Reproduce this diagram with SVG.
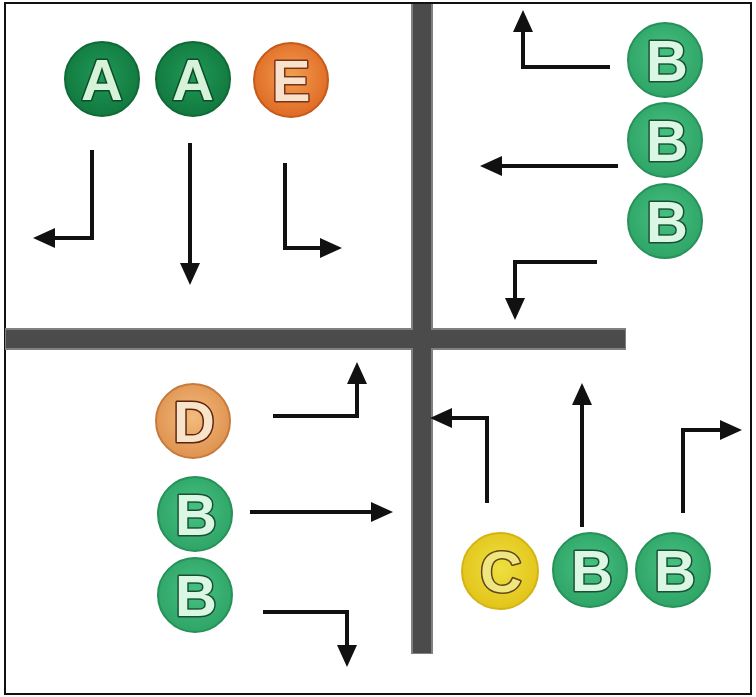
<svg xmlns="http://www.w3.org/2000/svg" width="756" height="697" viewBox="0 0 756 697">
  <style>
    .frame { fill: #ffffff; stroke: #111111; stroke-width: 2; }
    .road-edge { fill: #808080; }
    .road { fill: #4b4b4b; }
    .flow { fill: none; stroke: #111111; stroke-width: 4; stroke-linejoin: miter; marker-end: url(#head); }
    .badge text { font-family: "Liberation Sans", Arial, sans-serif; font-weight: bold; font-size: 58px; text-anchor: middle; stroke-width: 3; paint-order: stroke; stroke-linejoin: round; }
    .green-dark circle { fill: url(#gDark); stroke: #0f6a36; stroke-width: 2; }
    .green-dark text { fill: #d4f3d8; stroke: #0e4a28; }
    .green circle { fill: url(#gMid); stroke: #26925a; stroke-width: 2; }
    .green text { fill: #d9f7e2; stroke: #1a4f33; }
    .orange circle { fill: url(#gOrange); stroke: #c45a1c; stroke-width: 2; }
    .orange text { fill: #f8e2cc; stroke: #7a3218; }
    .peach circle { fill: url(#gPeach); stroke: #c87a3c; stroke-width: 2; }
    .peach text { fill: #f8e4c8; stroke: #5e2210; }
    .yellow circle { fill: url(#gYellow); stroke: #d4b414; stroke-width: 2; }
    .yellow text { fill: #f0e680; stroke: #5e4418; }
  </style>
  <defs>
    <marker id="head" markerUnits="userSpaceOnUse" markerWidth="22" markerHeight="22" refX="0" refY="11" orient="auto">
      <path d="M0,1 L22,11 L0,21 z" fill="#111111"/>
    </marker>
    <radialGradient id="gDark" cx="50%" cy="45%" r="55%">
      <stop offset="0" stop-color="#1f9a56"/>
      <stop offset="1" stop-color="#12783f"/>
    </radialGradient>
    <radialGradient id="gMid" cx="50%" cy="45%" r="55%">
      <stop offset="0" stop-color="#45c282"/>
      <stop offset="1" stop-color="#2fa466"/>
    </radialGradient>
    <radialGradient id="gOrange" cx="50%" cy="45%" r="55%">
      <stop offset="0" stop-color="#f0a050"/>
      <stop offset="1" stop-color="#e06a24"/>
    </radialGradient>
    <radialGradient id="gPeach" cx="50%" cy="45%" r="55%">
      <stop offset="0" stop-color="#f2bc7c"/>
      <stop offset="1" stop-color="#df9250"/>
    </radialGradient>
    <radialGradient id="gYellow" cx="50%" cy="45%" r="55%">
      <stop offset="0" stop-color="#eee040"/>
      <stop offset="1" stop-color="#e2c41a"/>
    </radialGradient>
  </defs>

  <!-- outer frame -->
  <rect class="frame" x="5" y="3" width="746" height="691"/>

  <!-- crossing roads: lighter edge layer under the dark surface -->
  <g id="roads">
    <rect class="road-edge" x="5" y="328" width="621" height="22"/>
    <rect class="road-edge" x="411" y="4" width="22" height="650"/>
    <rect class="road" x="6" y="330" width="619" height="18"/>
    <rect class="road" x="413" y="4" width="18" height="649"/>
  </g>

  <!-- movement arrows -->
  <g id="connectors">
    <!-- top-left quadrant -->
    <path class="flow" d="M92,150 V238 H55"/>
    <path class="flow" d="M190,143 V263"/>
    <path class="flow" d="M285,163 V248 H320"/>
    <!-- top-right quadrant -->
    <path class="flow" d="M610,67 H523 V32"/>
    <path class="flow" d="M618,166 H502"/>
    <path class="flow" d="M597,262 H515 V298"/>
    <!-- bottom-left quadrant -->
    <path class="flow" d="M273,416 H357 V384"/>
    <path class="flow" d="M250,512 H371"/>
    <path class="flow" d="M263,612 H347 V645"/>
    <!-- bottom-right quadrant -->
    <path class="flow" d="M487,503 V418 H452"/>
    <path class="flow" d="M582,527 V405"/>
    <path class="flow" d="M683,513 V430 H720"/>
  </g>

  <!-- vehicles -->
  <g id="node-a1" class="badge green-dark"><circle cx="102" cy="79" r="37"/><text x="102" y="100">A</text></g>
  <g id="node-a2" class="badge green-dark"><circle cx="193" cy="79" r="37"/><text x="193" y="100">A</text></g>
  <g id="node-e" class="badge orange"><circle cx="291" cy="80" r="37"/><text x="291" y="101">E</text></g>

  <g id="node-b1" class="badge green"><circle cx="665" cy="60" r="37"/><text x="667" y="81">B</text></g>
  <g id="node-b2" class="badge green"><circle cx="665" cy="140" r="37"/><text x="667" y="161">B</text></g>
  <g id="node-b3" class="badge green"><circle cx="665" cy="221" r="37"/><text x="667" y="242">B</text></g>

  <g id="node-d" class="badge peach"><circle cx="193" cy="421" r="37"/><text x="194" y="442">D</text></g>
  <g id="node-b4" class="badge green"><circle cx="195" cy="514" r="37"/><text x="196" y="535">B</text></g>
  <g id="node-b5" class="badge green"><circle cx="195" cy="595" r="37"/><text x="196" y="616">B</text></g>

  <g id="node-c" class="badge yellow"><circle cx="500" cy="571" r="38"/><text x="501" y="592">C</text></g>
  <g id="node-b6" class="badge green"><circle cx="590" cy="570" r="37"/><text x="592" y="591">B</text></g>
  <g id="node-b7" class="badge green"><circle cx="673" cy="570" r="37"/><text x="675" y="591">B</text></g>
</svg>
